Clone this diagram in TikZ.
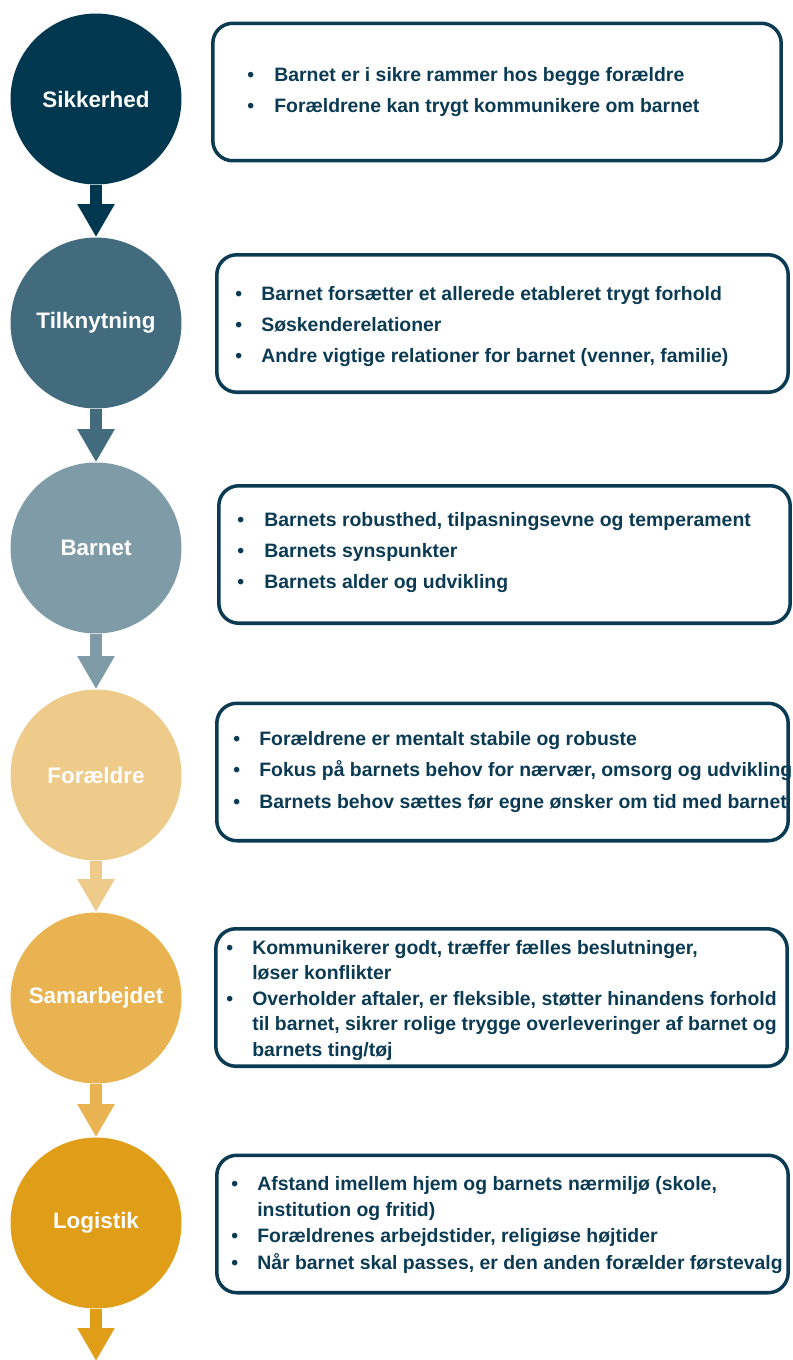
\documentclass[tikz,border=0pt]{standalone}
\usepackage{fontspec}
\setmainfont{Liberation Sans}
\usetikzlibrary{arrows.meta}

\definecolor{navy}{HTML}{02384F}
\definecolor{slate}{HTML}{426B7E}
\definecolor{steel}{HTML}{7F9BA8}
\definecolor{sand}{HTML}{EFCB8B}
\definecolor{ochre}{HTML}{E8B350}
\definecolor{amber}{HTML}{E09E18}
\definecolor{ink}{HTML}{0B3A53}

\begin{document}
\begin{tikzpicture}[x=0.02cm,y=-0.02cm,
  stage/.style={circle,fill=#1,text=white,minimum size=3.42cm,inner sep=0pt,
    font=\bfseries\fontsize{12.75}{15}\selectfont},
  flow/.style={draw=#1,line width=0.24cm,-{Triangle[width=0.7cm,length=0.66cm]}},
  card/.style={draw=ink,line width=2pt,rounded corners=0.4cm,
    minimum width=11.43cm,minimum height=2.75cm,inner sep=0pt},
  items/.style={text=ink,anchor=base west,inner sep=0pt,
    font=\bfseries\fontsize{11.05}{#1}\selectfont}]

\useasboundingbox (0,0) rectangle (792,1360);

% circles
\node[stage=navy]  (c1) at (96,99)   {Sikkerhed};
\node[stage=slate] (c2) at (96,323)  {Tilknytning};
\node[stage=steel] (c3) at (96,548)  {Barnet};
\node[stage=sand]  (c4) at (96,775)  {Forældre};
\node[stage=ochre] (c5) at (96,998)  {Samarbejdet};
\node[stage=amber] (c6) at (96,1223) {Logistik};
\coordinate (end) at (96,1361);

\draw[flow=navy]  (c1.south) -- (c2.north);
\draw[flow=slate] (c2.south) -- (c3.north);
\draw[flow=steel] (c3.south) -- (c4.north);
\draw[flow=sand]  (c4.south) -- (c5.north);
\draw[flow=ochre] (c5.south) -- (c6.north);
\draw[flow=amber] (c6.south) -- (end);

% boxes
\node[card,minimum width=11.37cm] (b1) at (497,92) {};
\node[card] (b2) at (502.5,323.5) {};
\node[card] (b3) at (504.5,554.5) {};
\node[card] (b4) at (502.5,772) {};
\node[card] (b5) at (501.5,997.5) {};
\node[card] (b6) at (502.5,1224) {};

\node[items=18.1pt] (t1) at (247,81) {\begin{tabular}[t]{@{}p{0.54cm}@{}l@{}}
  • & Barnet er i sikre rammer hos begge forældre\\
  • & Forældrene kan trygt kommunikere om barnet
\end{tabular}};
\node[items=17.9pt] (t2) at (235,300) {\begin{tabular}[t]{@{}p{0.52cm}@{}l@{}}
  • & Barnet forsætter et allerede etableret trygt forhold\\
  • & Søskenderelationer\\
  • & Andre vigtige relationer for barnet (venner, familie)
\end{tabular}};
\node[items=17.9pt] (t3) at (237,526) {\begin{tabular}[t]{@{}p{0.54cm}@{}l@{}}
  • & Barnets robusthed, tilpasningsevne og temperament\\
  • & Barnets synspunkter\\
  • & Barnets alder og udvikling
\end{tabular}};
\node[items=18.1pt] (t4) at (233,745) {\begin{tabular}[t]{@{}p{0.52cm}@{}l@{}}
  • & Forældrene er mentalt stabile og robuste\\
  • & Fokus på barnets behov for nærvær, omsorg og udvikling\\
  • & Barnets behov sættes før egne ønsker om tid med barnet
\end{tabular}};
\node[items=14.6pt] (t5) at (226,954) {\begin{tabular}[t]{@{}p{0.52cm}@{}l@{}}
  • & Kommunikerer godt, træffer fælles beslutninger,\\
    & løser konflikter\\
  • & Overholder aftaler, er fleksible, støtter hinandens forhold\\
    & til barnet, sikrer rolige trygge overleveringer af barnet og\\
    & barnets ting/tøj
\end{tabular}};
\node[items=15pt] (t6) at (231,1190) {\begin{tabular}[t]{@{}p{0.52cm}@{}l@{}}
  • & Afstand imellem hjem og barnets nærmiljø (skole,\\
    & institution og fritid)\\
  • & Forældrenes arbejdstider, religiøse højtider\\
  • & Når barnet skal passes, er den anden forælder førstevalg
\end{tabular}};
\end{tikzpicture}
\end{document}
